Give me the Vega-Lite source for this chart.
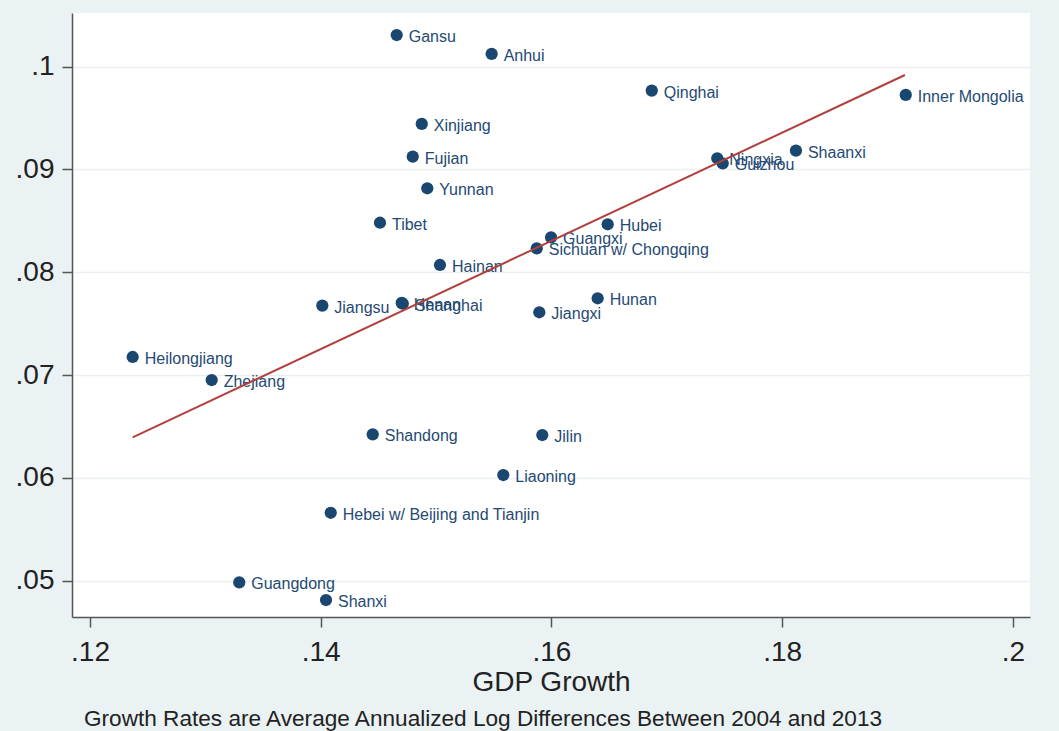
{
  "$schema": "https://vega.github.io/schema/vega-lite/v6.json",
  "width": 958,
  "height": 604,
  "autosize": {"type": "none"},
  "padding": {"left": 72, "top": 13, "right": 29, "bottom": 114},
  "background": "#eaf2f4",
  "config": {
    "font": "Liberation Sans",
    "view": {"fill": "#ffffff", "stroke": null},
    "axis": {"labelFont": "Liberation Sans", "titleFont": "Liberation Sans"}
  },
  "title": {
    "text": "Growth Rates are Average Annualized Log Differences Between 2004 and 2013",
    "orient": "bottom",
    "anchor": "start",
    "frame": "group",
    "dx": 12,
    "offset": 12,
    "fontSize": 22.6,
    "fontWeight": "normal",
    "color": "#222222",
    "font": "Liberation Sans"
  },
  "datasets": {
    "provinces": [
      {"province": "Gansu", "gdp": 0.14659, "y": 0.10308},
      {"province": "Anhui", "gdp": 0.15482, "y": 0.10124},
      {"province": "Qinghai", "gdp": 0.1687, "y": 0.09767},
      {"province": "Inner Mongolia", "gdp": 0.19072, "y": 0.09725},
      {"province": "Xinjiang", "gdp": 0.14876, "y": 0.09443},
      {"province": "Fujian", "gdp": 0.14798, "y": 0.09125},
      {"province": "Ningxia", "gdp": 0.17438, "y": 0.09109},
      {"province": "Guizhou", "gdp": 0.17485, "y": 0.0906},
      {"province": "Shaanxi", "gdp": 0.1812, "y": 0.09183},
      {"province": "Yunnan", "gdp": 0.14924, "y": 0.08817},
      {"province": "Tibet", "gdp": 0.14514, "y": 0.08482},
      {"province": "Hubei", "gdp": 0.16488, "y": 0.08467},
      {"province": "Guangxi", "gdp": 0.15997, "y": 0.0834},
      {"province": "Sichuan w/ Chongqing", "gdp": 0.15873, "y": 0.08233},
      {"province": "Hainan", "gdp": 0.15034, "y": 0.08071},
      {"province": "Jiangsu", "gdp": 0.14014, "y": 0.07675},
      {"province": "Henan", "gdp": 0.14702, "y": 0.07702},
      {"province": "Shanghai", "gdp": 0.14712, "y": 0.07694},
      {"province": "Hunan", "gdp": 0.16401, "y": 0.07747},
      {"province": "Jiangxi", "gdp": 0.15895, "y": 0.07611},
      {"province": "Heilongjiang", "gdp": 0.1237, "y": 0.07176},
      {"province": "Zhejiang", "gdp": 0.13055, "y": 0.06952},
      {"province": "Shandong", "gdp": 0.14451, "y": 0.06424},
      {"province": "Jilin", "gdp": 0.15921, "y": 0.06417},
      {"province": "Liaoning", "gdp": 0.15583, "y": 0.06028},
      {"province": "Hebei w/ Beijing and Tianjin", "gdp": 0.14087, "y": 0.05661},
      {"province": "Guangdong", "gdp": 0.13294, "y": 0.04984},
      {"province": "Shanxi", "gdp": 0.14046, "y": 0.04812}
    ],
    "fit": [
      {"gdp": 0.1237, "y": 0.06395},
      {"gdp": 0.19065, "y": 0.09919}
    ]
  },
  "encoding": {
    "x": {
      "field": "gdp",
      "type": "quantitative",
      "scale": {"domain": [0.11844, 0.20149], "nice": false, "zero": false},
      "axis": {
        "title": "GDP Growth",
        "titleFontSize": 28,
        "titleFontWeight": "normal",
        "titleColor": "#222222",
        "titleBaseline": "top",
        "titleY": 51,
        "values": [0.12, 0.14, 0.16, 0.18, 0.2],
        "labelExpr": "replace(format(datum.value, '.2~f'), '0.', '.')",
        "labelFontSize": 28,
        "labelColor": "#222222",
        "labelPadding": 11,
        "labelFlush": false,
        "tickSize": 10,
        "tickColor": "#555555",
        "tickWidth": 1.5,
        "domainColor": "#555555",
        "domainWidth": 1.5,
        "grid": false
      }
    },
    "y": {
      "field": "y",
      "type": "quantitative",
      "scale": {"domain": [0.04647, 0.10522], "nice": false, "zero": false},
      "axis": {
        "title": null,
        "values": [0.05, 0.06, 0.07, 0.08, 0.09, 0.1],
        "labelExpr": "replace(format(datum.value, '.2~f'), '0.', '.')",
        "labelFontSize": 28,
        "labelColor": "#222222",
        "labelPadding": 8,
        "labelFlush": false,
        "tickSize": 10,
        "tickColor": "#555555",
        "tickWidth": 1.5,
        "domainColor": "#555555",
        "domainWidth": 1.5,
        "grid": true,
        "gridColor": "#eaf0f2",
        "gridWidth": 1.5
      }
    }
  },
  "layer": [
    {
      "data": {"name": "provinces"},
      "mark": {"type": "point", "filled": true, "shape": "circle", "size": 150, "color": "#1a476f", "opacity": 1}
    },
    {
      "data": {"name": "provinces"},
      "mark": {"type": "text", "align": "left", "baseline": "middle", "dx": 12, "dy": 2, "fontSize": 16, "color": "#1f4a73", "font": "Liberation Sans"},
      "encoding": {"text": {"field": "province", "type": "nominal"}}
    },
    {
      "data": {"name": "fit"},
      "mark": {"type": "line", "color": "#b0413e", "strokeWidth": 2},
      "encoding": {}
    }
  ]
}
